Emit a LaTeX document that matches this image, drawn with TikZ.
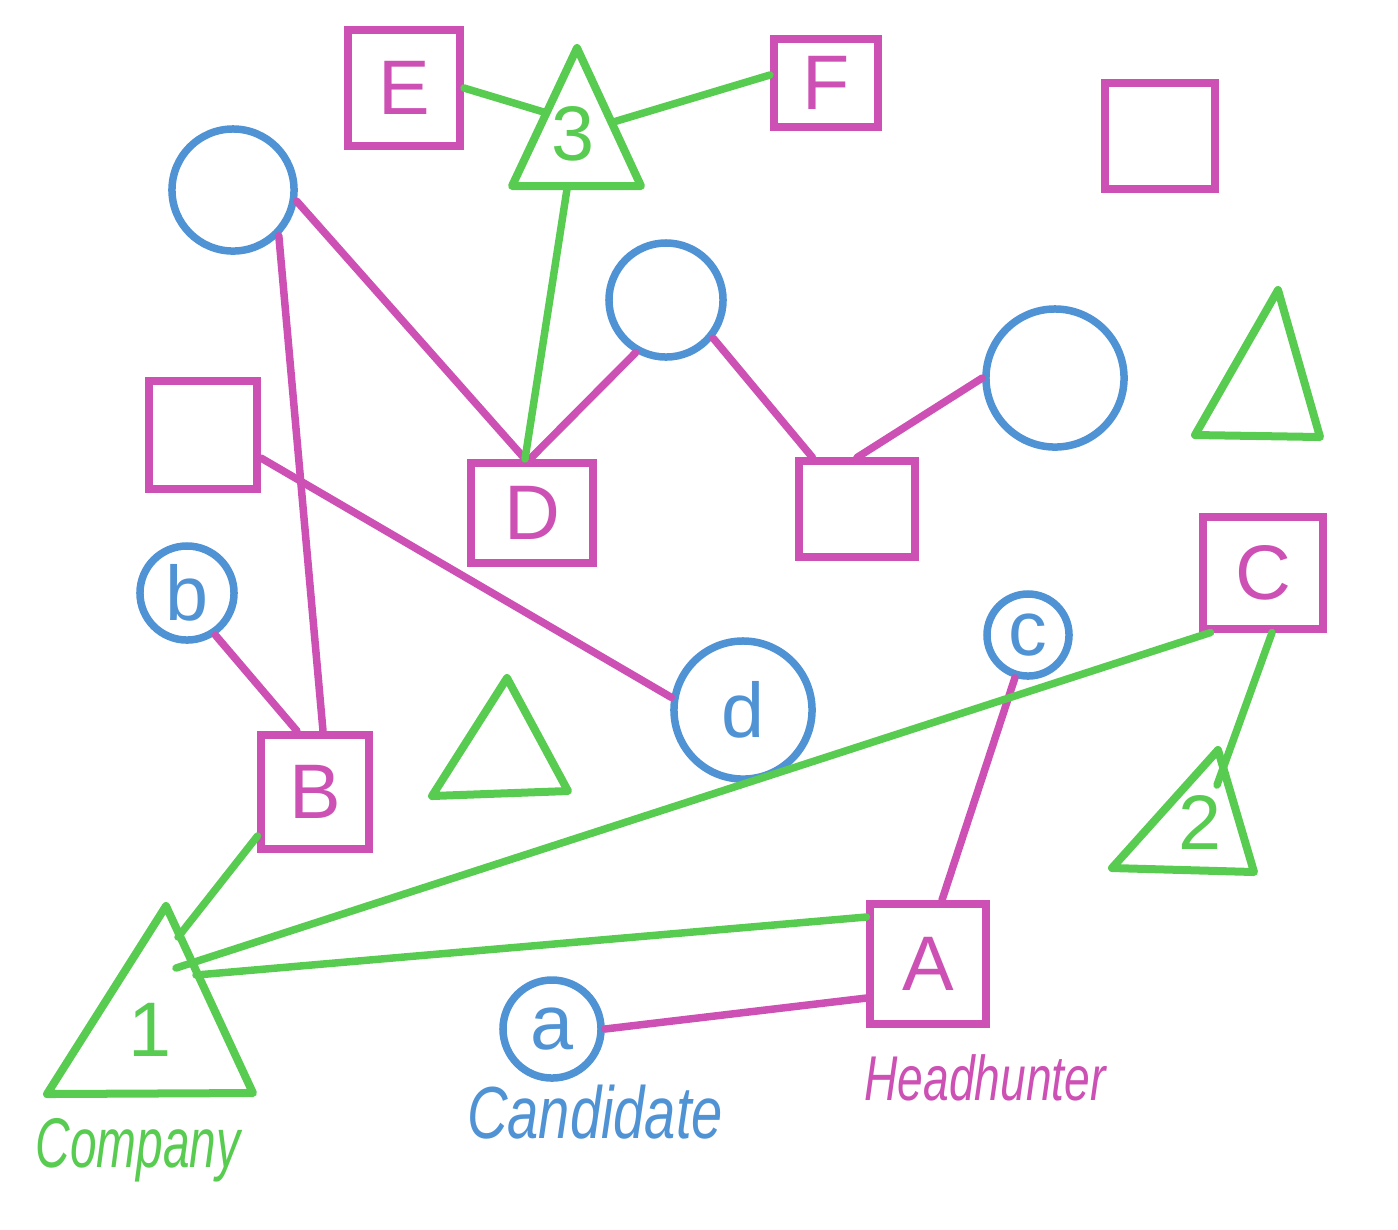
\documentclass[tikz,border=0pt]{standalone}
\usepackage{fontspec}
\setmainfont{Liberation Sans}
\usepackage{xcolor}
\usetikzlibrary{calc}
\definecolor{hhpink}{RGB}{205,80,180}
\definecolor{cogreen}{RGB}{88,204,80}
\definecolor{cablue}{RGB}{80,147,212}

\begin{document}
\begin{tikzpicture}[
  x=0.01cm, y=-0.01cm,
  hunterbox/.style={draw=hhpink, line width=0.08cm, inner sep=0pt, text=hhpink, font=\fontsize{22}{22}\selectfont},
  candcirc/.style={circle, draw=cablue, line width=0.075cm, inner sep=0pt, text=cablue, font=\fontsize{22}{22}\selectfont},
  comptri/.style={draw=cogreen, line width=0.08cm, line join=round},
  complabel/.style={text=cogreen, inner sep=0pt, font=\fontsize{22}{22}\selectfont},
  pinkline/.style={draw=hhpink, line width=0.075cm, line cap=round},
  greenline/.style={draw=cogreen, line width=0.075cm, line cap=round}
]
\useasboundingbox (0,0) rectangle (1398,1229);

\node[hunterbox, minimum width=1.12cm, minimum height=1.15cm] (E) at (404,88) {E};
\node[hunterbox, minimum width=1.04cm, minimum height=0.88cm] (F) at (826,83) {F};
\node[hunterbox, minimum width=1.10cm, minimum height=1.05cm] (sqTR) at (1160,136) {};
\node[hunterbox, minimum width=1.08cm, minimum height=1.07cm] (sqL) at (203,435) {};
\node[hunterbox, minimum width=1.21cm, minimum height=1.00cm] (D) at (532,513) {D};
\node[hunterbox, minimum width=1.15cm, minimum height=0.95cm] (sqM) at (857,509) {};
\node[hunterbox, minimum width=1.19cm, minimum height=1.11cm] (C) at (1263,573) {C};
\node[hunterbox, minimum width=1.07cm, minimum height=1.14cm] (B) at (315,792) {B};
\node[hunterbox, minimum width=1.15cm, minimum height=1.20cm] (A) at (928,964) {A};

\node[candcirc, minimum size=1.22cm] (c1) at (233,190) {};
\node[candcirc, minimum size=1.14cm] (c2) at (666,300) {};
\node[candcirc, minimum size=1.38cm] (c3) at (1055,378) {};
\node[candcirc, minimum size=0.94cm] (b) at (187,593) {b};
\node[candcirc, minimum size=0.82cm] (c) at (1028,635) {c};
\node[candcirc, minimum size=1.38cm] (d) at (743,710) {d};
\node[candcirc, minimum size=0.98cm] (a) at (552,1029) {a};

\coordinate (t3a) at (577,48);
\coordinate (t3l) at (512,186);
\coordinate (t3r) at (641,186);
\coordinate (tRa) at (1278,290);
\coordinate (tRl) at (1195,435);
\coordinate (tRr) at (1320,437);
\coordinate (tMa) at (507,678);
\coordinate (tMl) at (432,796);
\coordinate (tMr) at (568,791);
\coordinate (t2a) at (1218,750);
\coordinate (t2l) at (1112,868);
\coordinate (t2r) at (1254,872);
\coordinate (t1a) at (166,906);
\coordinate (t1l) at (47,1094);
\coordinate (t1r) at (253,1093);

\draw[comptri] (t3a) -- (t3l) -- (t3r) -- cycle;
\draw[comptri] (tRa) -- (tRl) -- (tRr) -- cycle;
\draw[comptri] (tMa) -- (tMl) -- (tMr) -- cycle;
\draw[comptri] (t2a) -- (t2l) -- (t2r) -- cycle;
\draw[comptri] (t1a) -- (t1l) -- (t1r) -- cycle;

\node[complabel] (t3) at (573,134) {3};
\node[complabel] (t2) at (1200,822) {2};
\node[complabel] (t1) at (150,1030) {1};

\coordinate (t1b) at (178,937);
\coordinate (t1c) at (176,968);
\coordinate (t1d) at (196,975);
\coordinate (t2c) at (1217,785);

\node[text=cogreen, font=\itshape\fontsize{20}{20}\selectfont] (company) at (138,1150) {\scalebox{0.68}[1]{Company}};
\node[text=cablue, font=\itshape\fontsize{21}{21}\selectfont] (candidate) at (595,1112) {\scalebox{0.76}[1]{Candidate}};
\node[text=hhpink, font=\itshape\fontsize{18}{18}\selectfont] (headhunter) at (985,1078) {\scalebox{0.73}[1]{Headhunter}};

\draw[pinkline] (c1.-10) -- ([xshift=-0.07cm]D.north);
\draw[pinkline] (c1.-45) -- ([xshift=0.08cm]B.north);
\draw[pinkline] ([yshift=-0.23cm]sqL.east) -- (d.170);
\draw[pinkline] (c2.-120) -- ([xshift=-0.02cm]D.north);
\draw[pinkline] (c2.-39) -- ([xshift=0.17cm]sqM.north west);
\draw[pinkline] (c3.180) -- (sqM.north);
\draw[pinkline] (b.-56) -- ([xshift=-0.18cm]B.north);
\draw[pinkline] (c.-107) -- ([xshift=0.14cm]A.north);
\draw[pinkline] (a.east) -- ([yshift=-0.34cm]A.west);

\draw[greenline] (E.east) -- ($(t3a)!0.47!(t3l)$);
\draw[greenline] ($(t3a)!0.54!(t3r)$) -- ([yshift=0.08cm]F.west);
\draw[greenline] ($(t3l)!0.43!(t3r)$) -- ([xshift=-0.07cm]D.north);
\draw[greenline] ([yshift=0.17cm]B.south west) -- (t1b);
\draw[greenline] ([xshift=0.11cm]C.south west) -- (t1c);
\draw[greenline] ([yshift=-0.17cm]A.north west) -- (t1d);
\draw[greenline] ([xshift=0.09cm]C.south) -- (t2c);
\end{tikzpicture}
\end{document}
